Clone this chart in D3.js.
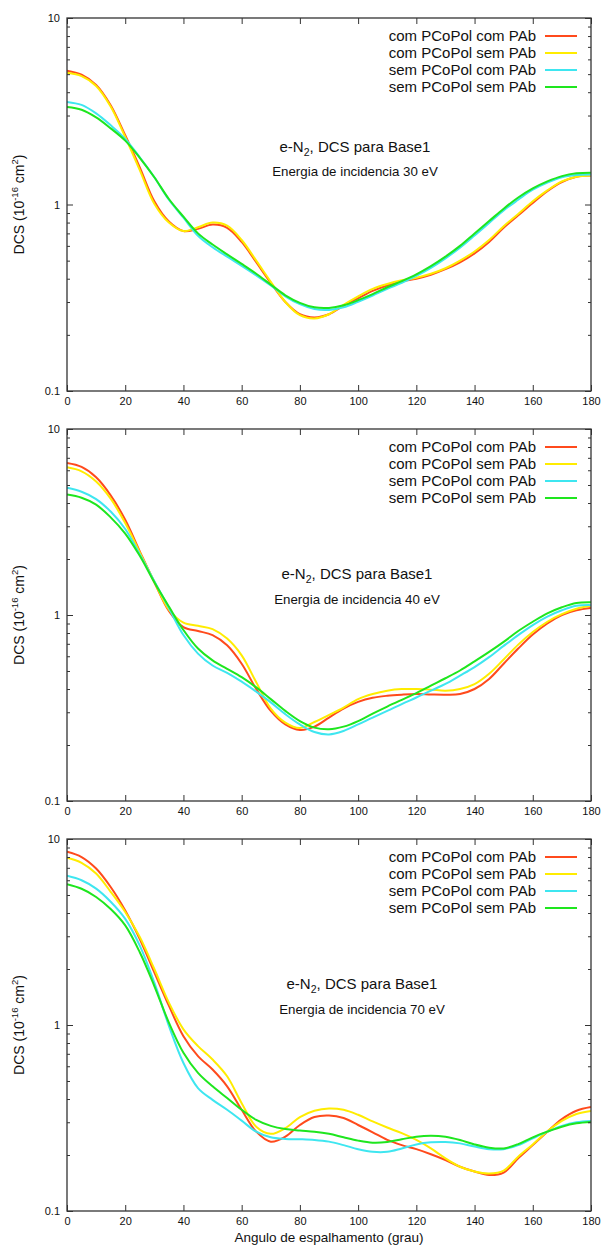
<!DOCTYPE html>
<html>
<head>
<meta charset="utf-8">
<script src="https://cdn.jsdelivr.net/npm/d3@7"></script>
<style>
  body { margin: 0; background: #fff; }
  svg { display: block; }
  text { font-family: "Liberation Sans", Arial, Helvetica, sans-serif; fill: #111; }
</style>
</head>
<body>
<svg id="chart" width="602" height="1245"></svg>
<script>
// Scattering angle grid (degrees)
const angles = [0, 5, 10, 15, 20, 25, 30, 35, 40, 45, 50, 55, 60, 65, 70, 75, 80, 85, 90,
                95, 100, 105, 110, 115, 120, 125, 130, 135, 140, 145, 150, 155, 160, 165, 170, 175, 180];

const seriesNames = ["com PCoPol com PAb", "com PCoPol sem PAb", "sem PCoPol com PAb", "sem PCoPol sem PAb"];
const energies = [30, 40, 70];

// DCS (10^-16 cm^2), 30 eV
const dcs30_comPol_comPAb = [5.22, 4.97, 4.38, 3.41, 2.35, 1.58, 1.04, 0.81, 0.72, 0.74, 0.78, 0.75, 0.63, 0.49, 0.38, 0.30, 0.258, 0.248, 0.258,
  0.287, 0.314, 0.344, 0.368, 0.387, 0.40, 0.42, 0.45, 0.49, 0.547, 0.63, 0.75, 0.875, 1.02, 1.18, 1.32, 1.41, 1.43];
const dcs30_comPol_semPAb = [5.08, 4.88, 4.32, 3.35, 2.30, 1.53, 1.01, 0.80, 0.72, 0.755, 0.80, 0.77, 0.645, 0.50, 0.385, 0.30, 0.255, 0.245, 0.258,
  0.29, 0.322, 0.353, 0.375, 0.392, 0.405, 0.425, 0.455, 0.50, 0.56, 0.645, 0.765, 0.89, 1.04, 1.19, 1.33, 1.41, 1.43];
const dcs30_semPol_comPAb = [3.55, 3.42, 3.08, 2.66, 2.25, 1.79, 1.40, 1.06, 0.85, 0.68, 0.59, 0.525, 0.469, 0.417, 0.368, 0.322, 0.292, 0.275, 0.272,
  0.281, 0.301, 0.325, 0.353, 0.38, 0.414, 0.457, 0.514, 0.587, 0.682, 0.796, 0.93, 1.06, 1.2, 1.31, 1.40, 1.44, 1.45];
const dcs30_semPol_semPAb = [3.33, 3.22, 2.93, 2.56, 2.2, 1.78, 1.40, 1.07, 0.86, 0.70, 0.61, 0.54, 0.48, 0.425, 0.372, 0.326, 0.297, 0.281, 0.279,
  0.288, 0.307, 0.331, 0.36, 0.388, 0.422, 0.467, 0.525, 0.60, 0.70, 0.815, 0.95, 1.09, 1.22, 1.33, 1.42, 1.47, 1.48];

// DCS (10^-16 cm^2), 40 eV
const dcs40_comPol_comPAb = [6.56, 6.25, 5.5, 4.4, 3.25, 2.2, 1.5, 1.05, 0.86, 0.82, 0.78, 0.687, 0.547, 0.40, 0.305, 0.258, 0.241, 0.251, 0.281,
  0.314, 0.341, 0.359, 0.368, 0.373, 0.376, 0.374, 0.373, 0.376, 0.40, 0.453, 0.547, 0.66, 0.785, 0.90, 1.0, 1.06, 1.09];
const dcs40_comPol_semPAb = [6.22, 5.92, 5.22, 4.22, 3.12, 2.17, 1.51, 1.07, 0.91, 0.875, 0.84, 0.747, 0.607, 0.435, 0.314, 0.264, 0.247, 0.266, 0.29,
  0.318, 0.353, 0.376, 0.392, 0.40, 0.40, 0.397, 0.392, 0.40, 0.425, 0.483, 0.577, 0.693, 0.81, 0.92, 1.01, 1.08, 1.12];
const dcs40_semPol_comPAb = [4.83, 4.6, 4.2, 3.6, 2.9, 2.12, 1.52, 1.09, 0.78, 0.62, 0.535, 0.489, 0.438, 0.387, 0.339, 0.293, 0.258, 0.235, 0.228,
  0.238, 0.258, 0.281, 0.305, 0.332, 0.36, 0.392, 0.426, 0.472, 0.525, 0.594, 0.682, 0.78, 0.883, 0.98, 1.06, 1.12, 1.13];
const dcs40_semPol_semPAb = [4.44, 4.27, 3.92, 3.35, 2.74, 2.08, 1.5, 1.11, 0.83, 0.66, 0.57, 0.514, 0.463, 0.408, 0.353, 0.305, 0.269, 0.248, 0.243,
  0.251, 0.269, 0.295, 0.322, 0.35, 0.38, 0.417, 0.457, 0.503, 0.563, 0.633, 0.717, 0.82, 0.92, 1.02, 1.1, 1.16, 1.17];

// DCS (10^-16 cm^2), 70 eV
const dcs70_comPol_comPAb = [8.54, 8.0, 6.94, 5.52, 4.13, 2.9, 1.92, 1.27, 0.87, 0.68, 0.576, 0.468, 0.35, 0.267, 0.236, 0.251, 0.29, 0.32, 0.326,
  0.316, 0.29, 0.265, 0.241, 0.226, 0.215, 0.202, 0.188, 0.173, 0.163, 0.156, 0.161, 0.192, 0.226, 0.267, 0.312, 0.346, 0.362];
const dcs70_comPol_semPAb = [7.93, 7.45, 6.52, 5.2, 4.05, 2.97, 2.0, 1.32, 0.948, 0.77, 0.652, 0.53, 0.38, 0.284, 0.26, 0.279, 0.32, 0.346, 0.356,
  0.35, 0.329, 0.303, 0.281, 0.262, 0.241, 0.217, 0.192, 0.173, 0.163, 0.159, 0.165, 0.196, 0.228, 0.268, 0.305, 0.332, 0.345];
const dcs70_semPol_comPAb = [6.34, 6.0, 5.41, 4.6, 3.72, 2.67, 1.69, 0.99, 0.625, 0.458, 0.396, 0.35, 0.306, 0.267, 0.249, 0.244, 0.243, 0.241, 0.236,
  0.226, 0.215, 0.208, 0.208, 0.217, 0.228, 0.234, 0.235, 0.231, 0.222, 0.215, 0.215, 0.226, 0.246, 0.267, 0.287, 0.3, 0.305];
const dcs70_semPol_semPAb = [5.71, 5.4, 4.88, 4.2, 3.43, 2.46, 1.62, 1.03, 0.709, 0.553, 0.468, 0.405, 0.35, 0.309, 0.287, 0.276, 0.271, 0.267, 0.26,
  0.249, 0.239, 0.233, 0.235, 0.243, 0.251, 0.254, 0.251, 0.241, 0.228, 0.219, 0.217, 0.229, 0.249, 0.267, 0.284, 0.296, 0.301];

// Axis ticks
const xTicks = [0, 20, 40, 60, 80, 100, 120, 140, 160, 180];
const yTicks = [0.1, 1, 10];
const yMinorTicks = [0.2, 0.3, 0.4, 0.5, 0.6, 0.7, 0.8, 0.9, 2, 3, 4, 5, 6, 7, 8, 9];

const colors = ["#ff4a1c", "#ffec00", "#3ee6f0", "#1ee61e"];

const panels = [
  { energy: energies[0], top: 18,  bottom: 391,  titleX: 355, titleY: 152, subY: 176,
    data: [dcs30_comPol_comPAb, dcs30_comPol_semPAb, dcs30_semPol_comPAb, dcs30_semPol_semPAb] },
  { energy: energies[1], top: 429, bottom: 801,  titleX: 357, titleY: 579, subY: 604,
    data: [dcs40_comPol_comPAb, dcs40_comPol_semPAb, dcs40_semPol_comPAb, dcs40_semPol_semPAb] },
  { energy: energies[2], top: 839, bottom: 1211, titleX: 362, titleY: 989, subY: 1014,
    data: [dcs70_comPol_comPAb, dcs70_comPol_semPAb, dcs70_semPol_comPAb, dcs70_semPol_semPAb] }
];

const left = 67, right = 591;
const svg = d3.select("#chart");
svg.append("rect").attr("width", 602).attr("height", 1245).attr("fill", "#fff");

const x = d3.scaleLinear().domain([0, 180]).range([left, right]);

panels.forEach((p, pi) => {
  const y = d3.scaleLog().domain([0.1, 10]).range([p.bottom, p.top]);
  const g = svg.append("g");

  // clip region for the curves
  const clipId = "clip" + pi;
  svg.append("clipPath").attr("id", clipId)
    .append("rect").attr("x", left).attr("y", p.top)
    .attr("width", right - left).attr("height", p.bottom - p.top);

  // curves
  const line = d3.line()
    .x((d, i) => x(angles[i]))
    .y(d => y(d))
    .curve(d3.curveCatmullRom.alpha(0.5));

  const curves = g.append("g").attr("clip-path", `url(#${clipId})`);
  p.data.forEach((vals, si) => {
    curves.append("path")
      .attr("d", line(vals))
      .attr("fill", "none")
      .attr("stroke", colors[si])
      .attr("stroke-width", 2)
      .attr("stroke-linejoin", "round");
  });

  // axes, ticks pointing inward
  const styleAxis = sel => {
    sel.select(".domain").remove();
    sel.selectAll(".tick line").attr("stroke", "#333").attr("stroke-width", 1);
    sel.selectAll(".tick text").attr("font-size", 11).attr("fill", "#111")
      .attr("font-family", '"Liberation Sans", Arial, sans-serif');
  };

  g.append("g").attr("transform", `translate(0,${p.bottom})`)
    .call(d3.axisBottom(x).tickValues(xTicks).tickSize(-6).tickPadding(6).tickFormat(d3.format("d")))
    .call(styleAxis);
  g.append("g").attr("transform", `translate(0,${p.top})`)
    .call(d3.axisTop(x).tickValues(xTicks).tickSize(-6).tickFormat(""))
    .call(styleAxis);
  g.append("g").attr("transform", `translate(${left},0)`)
    .call(d3.axisLeft(y).tickValues(yTicks).tickSize(-6).tickPadding(7).tickFormat(d => d3.format("~g")(d)))
    .call(styleAxis);
  g.append("g").attr("transform", `translate(${right},0)`)
    .call(d3.axisRight(y).tickValues(yTicks).tickSize(-6).tickFormat(""))
    .call(styleAxis);
  g.append("g").attr("transform", `translate(${left},0)`)
    .call(d3.axisLeft(y).tickValues(yMinorTicks).tickSize(-3).tickFormat(""))
    .call(styleAxis);
  g.append("g").attr("transform", `translate(${right},0)`)
    .call(d3.axisRight(y).tickValues(yMinorTicks).tickSize(-3).tickFormat(""))
    .call(styleAxis);

  // frame
  g.append("rect")
    .attr("x", left).attr("y", p.top)
    .attr("width", right - left).attr("height", p.bottom - p.top)
    .attr("fill", "none").attr("stroke", "#333").attr("stroke-width", 1.3);

  // legend
  const lg = g.append("g");
  seriesNames.forEach((name, si) => {
    const ly = p.top + 18 + si * 17;
    lg.append("text").attr("x", 536).attr("y", ly).attr("dy", "0.35em")
      .attr("text-anchor", "end").attr("font-size", 15).text(name);
    lg.append("line").attr("x1", 545).attr("x2", 577).attr("y1", ly).attr("y2", ly)
      .attr("stroke", colors[si]).attr("stroke-width", 2);
  });

  // panel annotation
  const t = g.append("text").attr("x", p.titleX).attr("y", p.titleY)
    .attr("text-anchor", "middle").attr("font-size", 15);
  t.append("tspan").text("e-N");
  t.append("tspan").attr("dy", 4).attr("font-size", 10.5).text("2");
  t.append("tspan").attr("dy", -4).text(", DCS para Base1");

  g.append("text").attr("x", p.titleX).attr("y", p.subY)
    .attr("text-anchor", "middle").attr("font-size", 13.3)
    .text(`Energia de incidencia ${p.energy} eV`);

  // y-axis title
  const yt = g.append("text")
    .attr("transform", `translate(24,${(p.top + p.bottom) / 2}) rotate(-90)`)
    .attr("text-anchor", "middle").attr("font-size", 14);
  yt.append("tspan").text("DCS (10");
  yt.append("tspan").attr("dy", -6).attr("font-size", 9.5).text("-16");
  yt.append("tspan").attr("dy", 6).text(" cm");
  yt.append("tspan").attr("dy", -6).attr("font-size", 9.5).text("2");
  yt.append("tspan").attr("dy", 6).text(")");
});

// x-axis title under the last panel
svg.append("text")
  .attr("x", (left + right) / 2).attr("y", 1242)
  .attr("text-anchor", "middle").attr("font-size", 13.5)
  .text("Angulo de espalhamento (grau)");
</script>
</body>
</html>
